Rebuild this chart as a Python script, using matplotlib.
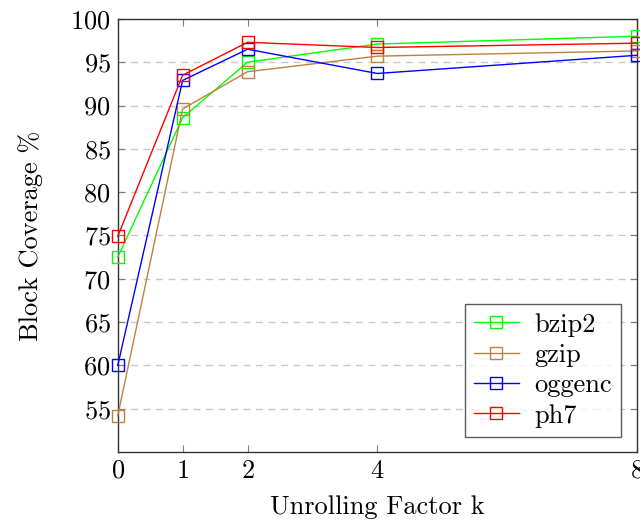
import matplotlib
matplotlib.use("Agg")
import matplotlib.pyplot as plt

plt.rcParams['font.family'] = ['cmr10', 'DejaVu Serif']
plt.rcParams['mathtext.fontset'] = 'cm'
plt.rcParams['axes.formatter.use_mathtext'] = True

# unrolling factors and coverage per benchmark
k = [0, 1, 2, 4, 8]
bzip2 = [72.5, 88.6, 95.0, 97.1, 98.0]
gzip = [54.2, 89.6, 93.9, 95.7, 96.3]
oggenc = [60.0, 92.9, 96.5, 93.7, 95.8]
ph7 = [74.9, 93.5, 97.3, 96.7, 97.2]

series = [("bzip2", bzip2, "#00ff00"),
          ("gzip", gzip, "#bf8040"),
          ("oggenc", oggenc, "#0000ff"),
          ("ph7", ph7, "#ff0000")]

fig = plt.figure(figsize=(6.4, 5.25), dpi=100)
ax = fig.add_axes([0.184, 0.139, 0.811, 0.825])

for name, vals, col in series:
    ax.plot(k, vals, color=col, lw=1.0, marker='s', markersize=8,
            markerfacecolor='none', markeredgecolor=col, markeredgewidth=1.0,
            label=name, clip_on=False, zorder=3)

ax.set_xlim(0, 8)
ax.set_ylim(50, 100)
ax.set_xticks(k)
ax.set_yticks(range(55, 101, 5))
ax.yaxis.grid(True, linestyle=(0, (5, 4)), color='#c8c8c8', lw=1.0)
ax.set_axisbelow(True)

ax.tick_params(direction='in', length=5, width=0.8, color='#7f7f7f',
               top=True, right=True, labelsize=19, pad=5)
for s in ax.spines.values():
    s.set_color('#333333')
    s.set_linewidth(1.0)

ax.set_xlabel("Unrolling Factor k", fontsize=19, labelpad=9)
ax.set_ylabel("Block Coverage %", fontsize=19, labelpad=20)

leg = ax.legend(loc='lower right', bbox_to_anchor=(0.97, 0.035), fontsize=19,
                frameon=True, fancybox=False, edgecolor='#333333',
                handlelength=1.7, borderpad=0.35, labelspacing=0.25,
                handletextpad=0.6, borderaxespad=0)
leg.get_frame().set_linewidth(1.0)

fig.savefig("out.png", dpi=100)
